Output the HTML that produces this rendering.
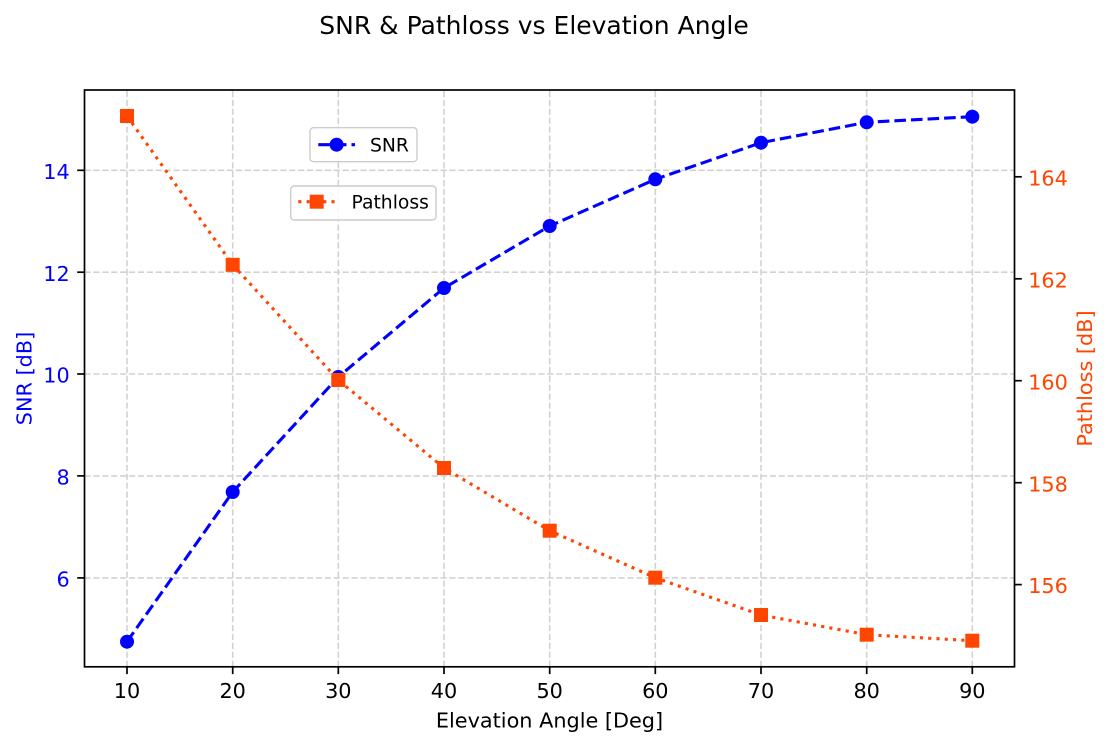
<!DOCTYPE html>
<html>
<head>
<meta charset="utf-8">
<style>
  html, body { margin: 0; padding: 0; background: #ffffff; }
  svg { display: block; }
  text { font-family: "DejaVu Sans", "Liberation Sans", sans-serif; }
</style>
</head>
<body>
<svg width="1112" height="745" viewBox="0 0 1112 745" xmlns="http://www.w3.org/2000/svg">
  <rect x="0" y="0" width="1112" height="745" fill="#ffffff"/>

  <!-- Title -->
  <text x="534" y="34" font-size="25" text-anchor="middle" fill="#000">SNR &amp; Pathloss vs Elevation Angle</text>

  <!-- Grid (left axis) -->
  <g stroke="#d2d2d2" stroke-width="1.6" stroke-dasharray="6.2,2.7" fill="none">
    <line x1="84.5" y1="170.3" x2="1014.5" y2="170.3"/>
    <line x1="84.5" y1="272.2" x2="1014.5" y2="272.2"/>
    <line x1="84.5" y1="374.0" x2="1014.5" y2="374.0"/>
    <line x1="84.5" y1="475.9" x2="1014.5" y2="475.9"/>
    <line x1="84.5" y1="577.9" x2="1014.5" y2="577.9"/>
    <line x1="127" y1="666.8" x2="127" y2="90"/>
    <line x1="232.7" y1="666.8" x2="232.7" y2="90"/>
    <line x1="338.3" y1="666.8" x2="338.3" y2="90"/>
    <line x1="444" y1="666.8" x2="444" y2="90"/>
    <line x1="549.7" y1="666.8" x2="549.7" y2="90"/>
    <line x1="655.3" y1="666.8" x2="655.3" y2="90"/>
    <line x1="761" y1="666.8" x2="761" y2="90"/>
    <line x1="866.7" y1="666.8" x2="866.7" y2="90"/>
    <line x1="972.3" y1="666.8" x2="972.3" y2="90"/>
  </g>

  <!-- SNR series -->
  <polyline fill="none" stroke="#0000ff" stroke-width="3.1" stroke-dasharray="11.6,5"
    points="127,641.7 232.7,492 338.3,377 444,288 549.7,226 655.3,179.3 761,142.7 866.7,122.3 972.3,116.7"/>
  <g fill="#0000ff">
    <circle cx="127" cy="641.7" r="7"/>
    <circle cx="232.7" cy="492" r="7"/>
    <circle cx="338.3" cy="377" r="7"/>
    <circle cx="444" cy="288" r="7"/>
    <circle cx="549.7" cy="226" r="7"/>
    <circle cx="655.3" cy="179.3" r="7"/>
    <circle cx="761" cy="142.7" r="7"/>
    <circle cx="866.7" cy="122.3" r="7"/>
    <circle cx="972.3" cy="116.7" r="7"/>
  </g>

  <!-- SNR legend -->
  <rect x="310" y="127.7" width="107" height="34" rx="3.5" ry="3.5" fill="#ffffff" fill-opacity="0.85" stroke="#cccccc" stroke-width="1.4"/>
  <line x1="318.3" y1="144.7" x2="355" y2="144.7" stroke="#0000ff" stroke-width="3.1" stroke-dasharray="11.6,5"/>
  <circle cx="336.6" cy="144.7" r="7" fill="#0000ff"/>
  <text x="370" y="151.5" font-size="18.75" fill="#000">SNR</text>

  <!-- Pathloss series -->
  <polyline fill="none" stroke="#ff4500" stroke-width="3.1" stroke-dasharray="3.1,5.2"
    points="127,116 232.7,264.8 338.3,380 444,468 549.7,530.7 655.3,577.7 761,615 866.7,634.7 972.3,640.7"/>
  <g fill="#ff4500">
    <rect x="120" y="109" width="14" height="14"/>
    <rect x="225.7" y="257.8" width="14" height="14"/>
    <rect x="331.3" y="373" width="14" height="14"/>
    <rect x="437" y="461" width="14" height="14"/>
    <rect x="542.7" y="523.7" width="14" height="14"/>
    <rect x="648.3" y="570.7" width="14" height="14"/>
    <rect x="754" y="608" width="14" height="14"/>
    <rect x="859.7" y="627.7" width="14" height="14"/>
    <rect x="965.3" y="633.7" width="14" height="14"/>
  </g>

  <!-- Pathloss legend -->
  <rect x="290.7" y="186" width="145.3" height="34" rx="3.5" ry="3.5" fill="#ffffff" fill-opacity="0.85" stroke="#cccccc" stroke-width="1.4"/>
  <line x1="298.3" y1="201.7" x2="335" y2="201.7" stroke="#ff4500" stroke-width="3.1" stroke-dasharray="3.1,5.2"/>
  <rect x="309.7" y="194.7" width="14" height="14" fill="#ff4500"/>
  <text x="351.5" y="208.5" font-size="18.75" fill="#000">Pathloss</text>

  <!-- Spines -->
  <rect x="84.5" y="90" width="930" height="576.8" fill="none" stroke="#000" stroke-width="1.7"/>

  <!-- Ticks -->
  <g stroke="#000" stroke-width="1.7">
    <!-- left -->
    <line x1="77.2" y1="170.3" x2="84.5" y2="170.3"/>
    <line x1="77.2" y1="272.2" x2="84.5" y2="272.2"/>
    <line x1="77.2" y1="374.0" x2="84.5" y2="374.0"/>
    <line x1="77.2" y1="475.9" x2="84.5" y2="475.9"/>
    <line x1="77.2" y1="577.9" x2="84.5" y2="577.9"/>
    <!-- right -->
    <line x1="1014.5" y1="176.8" x2="1021.8" y2="176.8"/>
    <line x1="1014.5" y1="278.8" x2="1021.8" y2="278.8"/>
    <line x1="1014.5" y1="380.7" x2="1021.8" y2="380.7"/>
    <line x1="1014.5" y1="482.7" x2="1021.8" y2="482.7"/>
    <line x1="1014.5" y1="584.6" x2="1021.8" y2="584.6"/>
    <!-- bottom -->
    <line x1="127" y1="666.8" x2="127" y2="674.1"/>
    <line x1="232.7" y1="666.8" x2="232.7" y2="674.1"/>
    <line x1="338.3" y1="666.8" x2="338.3" y2="674.1"/>
    <line x1="444" y1="666.8" x2="444" y2="674.1"/>
    <line x1="549.7" y1="666.8" x2="549.7" y2="674.1"/>
    <line x1="655.3" y1="666.8" x2="655.3" y2="674.1"/>
    <line x1="761" y1="666.8" x2="761" y2="674.1"/>
    <line x1="866.7" y1="666.8" x2="866.7" y2="674.1"/>
    <line x1="972.3" y1="666.8" x2="972.3" y2="674.1"/>
  </g>

  <!-- Left tick labels -->
  <g font-size="20.8" fill="#0000ff" text-anchor="end">
    <text x="69.7" y="178.9">14</text>
    <text x="69.7" y="280.8">12</text>
    <text x="69.7" y="382.6">10</text>
    <text x="69.7" y="484.5">8</text>
    <text x="69.7" y="586.5">6</text>
  </g>

  <!-- Right tick labels -->
  <g font-size="20.8" fill="#ff4500" text-anchor="start">
    <text x="1028.2" y="185.4">164</text>
    <text x="1028.2" y="287.4">162</text>
    <text x="1028.2" y="389.3">160</text>
    <text x="1028.2" y="491.3">158</text>
    <text x="1028.2" y="593.2">156</text>
  </g>

  <!-- Bottom tick labels -->
  <g font-size="20.8" fill="#000" text-anchor="middle">
    <text x="127" y="698">10</text>
    <text x="232.7" y="698">20</text>
    <text x="338.3" y="698">30</text>
    <text x="444" y="698">40</text>
    <text x="549.7" y="698">50</text>
    <text x="655.3" y="698">60</text>
    <text x="761" y="698">70</text>
    <text x="866.7" y="698">80</text>
    <text x="972.3" y="698">90</text>
  </g>

  <!-- Axis labels -->
  <text x="549.5" y="727.5" font-size="20.8" text-anchor="middle" fill="#000">Elevation Angle [Deg]</text>
  <text transform="translate(31.3,378.5) rotate(-90)" font-size="20.8" text-anchor="middle" fill="#0000ff">SNR [dB]</text>
  <text transform="translate(1091.8,378.5) rotate(-90)" font-size="20.8" text-anchor="middle" fill="#ff4500">Pathloss [dB]</text>
</svg>
</body>
</html>
